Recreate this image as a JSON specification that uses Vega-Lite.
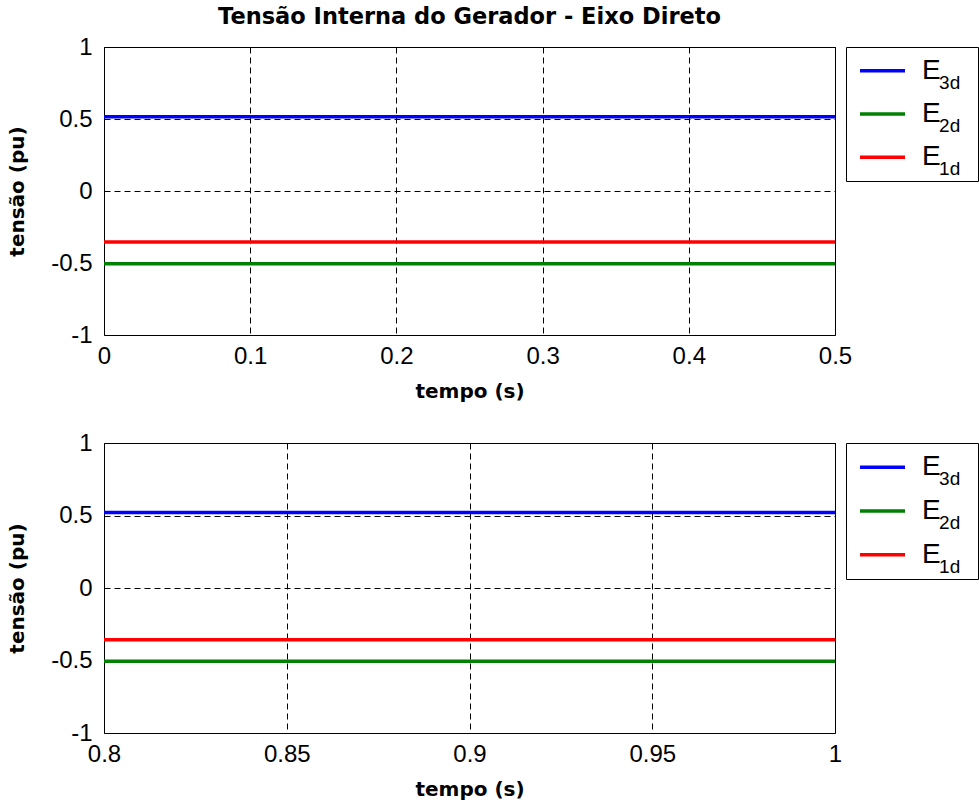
{
  "$schema": "https://vega.github.io/schema/vega-lite/v6.json",
  "background": "white",
  "padding": {"left": 7, "top": 5, "right": 0, "bottom": 0},
  "datasets": {
    "top": [
      {"t": 0, "v": 0.515, "series": "E3d"},
      {"t": 0.5, "v": 0.515, "series": "E3d"},
      {"t": 0, "v": -0.505, "series": "E2d"},
      {"t": 0.5, "v": -0.505, "series": "E2d"},
      {"t": 0, "v": -0.355, "series": "E1d"},
      {"t": 0.5, "v": -0.355, "series": "E1d"}
    ],
    "bottom": [
      {"t": 0.8, "v": 0.52, "series": "E3d"},
      {"t": 1.0, "v": 0.52, "series": "E3d"},
      {"t": 0.8, "v": -0.505, "series": "E2d"},
      {"t": 1.0, "v": -0.505, "series": "E2d"},
      {"t": 0.8, "v": -0.357, "series": "E1d"},
      {"t": 1.0, "v": -0.357, "series": "E1d"}
    ],
    "legend": [
      {"series": "E3d", "main": "E", "sub": "3d"},
      {"series": "E2d", "main": "E", "sub": "2d"},
      {"series": "E1d", "main": "E", "sub": "1d"}
    ]
  },
  "config": {
    "view": {"stroke": "black", "strokeWidth": 1},
    "axis": {
      "grid": true,
      "gridColor": "black",
      "gridDash": [6, 4],
      "gridOpacity": 1,
      "gridWidth": 1,
      "ticks": false,
      "domain": false,
      "labelFont": "Liberation Sans",
      "labelFontSize": 24,
      "labelColor": "black",
      "labelFlush": false,
      "titleFont": "DejaVu Sans",
      "titleFontWeight": "bold",
      "titleFontSize": 20,
      "titleColor": "black"
    }
  },
  "spacing": 28,
  "vconcat": [
    {
      "hconcat": [
        {
          "width": 731,
          "height": 288,
          "title": {"text": "Tensão Interna do Gerador - Eixo Direto", "font": "DejaVu Sans", "fontSize": 22.5, "fontWeight": "bold", "color": "black", "anchor": "middle", "offset": 7},
          "data": {"name": "top"},
          "mark": {"type": "line", "strokeWidth": 3.5, "clip": true},
          "encoding": {
            "x": {"field": "t", "type": "quantitative", "scale": {"domain": [0, 0.5], "nice": false, "zero": false},
                  "axis": {"values": [0, 0.1, 0.2, 0.3, 0.4, 0.5], "title": "tempo (s)", "labelExpr": "'' + datum.value", "labelPadding": 9, "titlePadding": 13}},
            "y": {"field": "v", "type": "quantitative", "scale": {"domain": [-1, 1], "nice": false},
                  "axis": {"values": [-1, -0.5, 0, 0.5, 1], "title": "tensão (pu)", "labelExpr": "'' + datum.value", "labelPadding": 12, "titlePadding": 23}},
            "color": {"field": "series", "type": "nominal", "scale": {"domain": ["E3d", "E2d", "E1d"], "range": ["#0000ff", "#008000", "#ff0000"]}, "legend": null}
          }
        },
        {
          "width": 132,
          "height": 134,
          "data": {"name": "legend"},
          "encoding": {
            "y": {"field": "series", "type": "nominal", "scale": {"type": "point", "domain": ["E3d", "E2d", "E1d"], "padding": 0.55}, "axis": null}
          },
          "layer": [
            {
              "mark": {"type": "rule", "strokeWidth": 3.5},
              "encoding": {
                "x": {"datum": 0.106, "type": "quantitative", "scale": {"domain": [0, 1], "nice": false, "zero": false}, "axis": null},
                "x2": {"datum": 0.447},
                "color": {"field": "series", "type": "nominal", "scale": {"domain": ["E3d", "E2d", "E1d"], "range": ["#0000ff", "#008000", "#ff0000"]}, "legend": null}
              }
            },
            {
              "mark": {"type": "text", "align": "left", "baseline": "middle", "font": "Liberation Sans", "fontSize": 28, "color": "black"},
              "encoding": {"x": {"datum": 0.576, "type": "quantitative"}, "text": {"field": "main"}}
            },
            {
              "mark": {"type": "text", "align": "left", "baseline": "middle", "font": "Liberation Sans", "fontSize": 19, "dy": 12, "color": "black"},
              "encoding": {"x": {"datum": 0.705, "type": "quantitative"}, "text": {"field": "sub"}}
            }
          ]
        }
      ],
      "spacing": 11,
      "bounds": "flush"
    },
    {
      "hconcat": [
        {
          "width": 731,
          "height": 290,
          "data": {"name": "bottom"},
          "mark": {"type": "line", "strokeWidth": 3.5, "clip": true},
          "encoding": {
            "x": {"field": "t", "type": "quantitative", "scale": {"domain": [0.8, 1], "nice": false, "zero": false},
                  "axis": {"values": [0.8, 0.85, 0.9, 0.95, 1], "title": "tempo (s)", "labelExpr": "'' + datum.value", "labelPadding": 9, "titlePadding": 13}},
            "y": {"field": "v", "type": "quantitative", "scale": {"domain": [-1, 1], "nice": false},
                  "axis": {"values": [-1, -0.5, 0, 0.5, 1], "title": "tensão (pu)", "labelExpr": "'' + datum.value", "labelPadding": 12, "titlePadding": 23}},
            "color": {"field": "series", "type": "nominal", "scale": {"domain": ["E3d", "E2d", "E1d"], "range": ["#0000ff", "#008000", "#ff0000"]}, "legend": null}
          }
        },
        {
          "width": 132,
          "height": 136,
          "data": {"name": "legend"},
          "encoding": {
            "y": {"field": "series", "type": "nominal", "scale": {"type": "point", "domain": ["E3d", "E2d", "E1d"], "padding": 0.55}, "axis": null}
          },
          "layer": [
            {
              "mark": {"type": "rule", "strokeWidth": 3.5},
              "encoding": {
                "x": {"datum": 0.106, "type": "quantitative", "scale": {"domain": [0, 1], "nice": false, "zero": false}, "axis": null},
                "x2": {"datum": 0.447},
                "color": {"field": "series", "type": "nominal", "scale": {"domain": ["E3d", "E2d", "E1d"], "range": ["#0000ff", "#008000", "#ff0000"]}, "legend": null}
              }
            },
            {
              "mark": {"type": "text", "align": "left", "baseline": "middle", "font": "Liberation Sans", "fontSize": 28, "color": "black"},
              "encoding": {"x": {"datum": 0.576, "type": "quantitative"}, "text": {"field": "main"}}
            },
            {
              "mark": {"type": "text", "align": "left", "baseline": "middle", "font": "Liberation Sans", "fontSize": 19, "dy": 12, "color": "black"},
              "encoding": {"x": {"datum": 0.705, "type": "quantitative"}, "text": {"field": "sub"}}
            }
          ]
        }
      ],
      "spacing": 11,
      "bounds": "flush"
    }
  ]
}
